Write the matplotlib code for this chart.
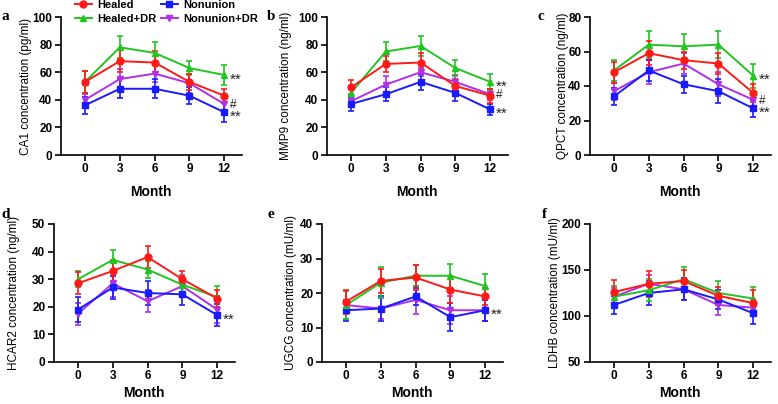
import matplotlib
matplotlib.use("Agg")
import matplotlib.pyplot as plt
from matplotlib.lines import Line2D

plt.rcParams['font.family'] = ['Liberation Sans', 'DejaVu Sans']

months = [0, 3, 6, 9, 12]
groups = ['Healed', 'Healed+DR', 'Nonunion', 'Nonunion+DR']
colors = {'Healed': '#ff1a1a', 'Healed+DR': '#22c422', 'Nonunion': '#1a1aff', 'Nonunion+DR': '#b030e8'}
markers = {'Healed': 'o', 'Healed+DR': '^', 'Nonunion': 's', 'Nonunion+DR': 'v'}

# CA1 (pg/ml)
ca1_mean = {'Healed': [53, 68, 67, 53, 43], 'Healed+DR': [53, 78, 74, 63, 58],
            'Nonunion': [36, 48, 48, 43, 31], 'Nonunion+DR': [40, 55, 59, 52, 37]}
ca1_err = {'Healed': [8, 8, 8, 6, 5], 'Healed+DR': [8, 8, 8, 5, 7],
           'Nonunion': [6, 7, 7, 6, 7], 'Nonunion+DR': [4, 7, 6, 7, 5]}
# MMP9 (ng/ml)
mmp9_mean = {'Healed': [49, 66, 67, 50, 43], 'Healed+DR': [45, 75, 79, 63, 53],
             'Nonunion': [37, 44, 53, 45, 33], 'Nonunion+DR': [39, 51, 60, 53, 44]}
mmp9_err = {'Healed': [5, 6, 7, 5, 5], 'Healed+DR': [5, 7, 7, 6, 6],
            'Nonunion': [5, 5, 6, 6, 4], 'Nonunion+DR': [4, 6, 3, 5, 4]}
# QPCT (ng/ml)
qpct_mean = {'Healed': [48, 59, 55, 53, 36], 'Healed+DR': [49, 64, 63, 64, 46],
             'Nonunion': [34, 49, 41, 37, 27], 'Nonunion+DR': [37, 48, 53, 41, 32]}
qpct_err = {'Healed': [6, 7, 5, 6, 5], 'Healed+DR': [6, 8, 7, 8, 7],
            'Nonunion': [5, 6, 5, 7, 5], 'Nonunion+DR': [5, 7, 6, 7, 4]}
# HCAR2 (ng/ml)
hcar2_mean = {'Healed': [28.5, 33, 38, 30, 23], 'Healed+DR': [30, 37, 33.5, 28, 23.5],
              'Nonunion': [19, 27, 25, 24.5, 17], 'Nonunion+DR': [17.5, 28.5, 22, 27.5, 19]}
hcar2_err = {'Healed': [4, 4, 4, 3, 3], 'Healed+DR': [3, 3.5, 3, 3, 4],
             'Nonunion': [4.5, 4, 4.5, 4, 4], 'Nonunion+DR': [4, 5, 4, 4, 5]}
# UGCG (mU/ml)
ugcg_mean = {'Healed': [17.5, 23.5, 24.5, 21, 19], 'Healed+DR': [16.5, 23, 25, 25, 22],
             'Nonunion': [15, 15.5, 19, 13, 15], 'Nonunion+DR': [16.5, 15.5, 18, 15, 15]}
ugcg_err = {'Healed': [3.5, 3.5, 3.5, 4, 2.5], 'Healed+DR': [4, 4.5, 3, 3.5, 3.5],
            'Nonunion': [3, 3.5, 2.5, 4, 3], 'Nonunion+DR': [4, 3, 4, 4, 3]}
# LDHB (mU/ml)
ldhb_mean = {'Healed': [126, 135, 138, 122, 114], 'Healed+DR': [121, 128, 140, 125, 119],
             'Nonunion': [112, 125, 129, 118, 103], 'Nonunion+DR': [121, 135, 129, 112, 109]}
ldhb_err = {'Healed': [13, 14, 12, 10, 14], 'Healed+DR': [12, 12, 13, 13, 12],
            'Nonunion': [10, 13, 12, 10, 12], 'Nonunion+DR': [9, 10, 12, 11, 9]}

panels = [
    ('a', 'CA1 concentration (pg/ml)', ca1_mean, ca1_err, (0, 100), [0, 20, 40, 60, 80, 100],
     [('**', 'Healed+DR'), ('#', 'Nonunion+DR'), ('**', 'Nonunion')]),
    ('b', 'MMP9 concentration (ng/ml)', mmp9_mean, mmp9_err, (0, 100), [0, 20, 40, 60, 80, 100],
     [('**', 'Healed+DR'), ('#', 'Nonunion+DR'), ('**', 'Nonunion')]),
    ('c', 'QPCT concentration (ng/ml)', qpct_mean, qpct_err, (0, 80), [0, 20, 40, 60, 80],
     [('**', 'Healed+DR'), ('#', 'Nonunion+DR'), ('**', 'Nonunion')]),
    ('d', 'HCAR2 concentration (ng/ml)', hcar2_mean, hcar2_err, (0, 50), [0, 10, 20, 30, 40, 50],
     [('**', 'Nonunion')]),
    ('e', 'UGCG concentration (mU/ml)', ugcg_mean, ugcg_err, (0, 40), [0, 10, 20, 30, 40],
     [('**', 'Nonunion')]),
    ('f', 'LDHB concentration (mU/ml)', ldhb_mean, ldhb_err, (50, 200), [50, 100, 150, 200], []),
]

W, H = 778, 404
XL = (-2.1, 13.5)
PX = 11.6  # pixels per month
# pixel of month 0, top, bottom, ylabel offset from spine, xlabel offset below spine
boxes = [
    (85, 17, 155, -35, 37),
    (351, 17, 155, -41, 37),
    (614, 17, 155, -27, 37),
    (78, 224, 362, -40, 31),
    (346, 224, 362, -31, 31),
    (614, 224, 362, -35, 31),
]
letter_pos = [(2, 20), (267, 20), (537, 20), (1, 218), (267, 218), (542, 218)]

fig = plt.figure(figsize=(W / 100, H / 100), dpi=100)

draw_order = ['Nonunion+DR', 'Nonunion', 'Healed+DR', 'Healed']

for (letter, ylabel, mean, err, ylim, yticks, marks), (p0, t, b, yl_off, xl_off), (lx, ly) in zip(panels, boxes, letter_pos):
    l = p0 + XL[0] * PX
    r = p0 + XL[1] * PX
    ax = fig.add_axes([l / W, 1 - b / H, (r - l) / W, (b - t) / H])
    for g in draw_order:
        ax.errorbar(months, mean[g], yerr=err[g], color=colors[g], marker=markers[g],
                    markersize=5, lw=1.4, elinewidth=1.2, capsize=2.5, capthick=1.2,
                    label=g, clip_on=False)
    for txt, g in marks:
        if txt == '**':
            ax.annotate(txt, (12, mean[g][-1]), xytext=(6, -8.5), textcoords='offset pixels',
                        fontsize=11, ha='left', va='baseline', color='#222222')
        else:
            ax.annotate(txt, (12, mean[g][-1]), xytext=(6, -4), textcoords='offset pixels',
                        fontsize=8.5, ha='left', va='baseline', color='#222222')
    ax.set_xlim(*XL)
    ax.set_ylim(*ylim)
    ax.set_xticks(months)
    ax.set_yticks(yticks)
    for s in ['top', 'right']:
        ax.spines[s].set_visible(False)
    for s in ['left', 'bottom']:
        ax.spines[s].set_linewidth(1.2)
    ax.tick_params(direction='out', length=4, width=1.2, labelsize=8.5, pad=2)
    for lab in ax.get_xticklabels() + ax.get_yticklabels():
        lab.set_fontweight('bold')
    ax.set_ylabel(ylabel, fontsize=8.5, va='center')
    ax.yaxis.set_label_coords(yl_off / (r - l), 0.5)
    ax.set_xlabel('Month', fontsize=10, fontweight='bold', va='center')
    ax.xaxis.set_label_coords(0.5, -xl_off / (b - t))
    fig.text(lx / W, 1 - ly / H, letter, fontsize=11, fontweight='bold',
             family='Liberation Serif', ha='left', va='baseline')

handles = [Line2D([], [], color=colors[g], marker=markers[g], markersize=5, lw=1.4) for g in groups]
fig.legend(handles, groups, ncol=2, loc='upper left', bbox_to_anchor=(75 / W, 1.0),
           frameon=False, prop={'weight': 'bold', 'size': 8}, handlelength=1.5,
           handletextpad=0.5, columnspacing=0.4, labelspacing=0.35,
           borderaxespad=0, borderpad=0)

fig.savefig('out.png', dpi=100)
